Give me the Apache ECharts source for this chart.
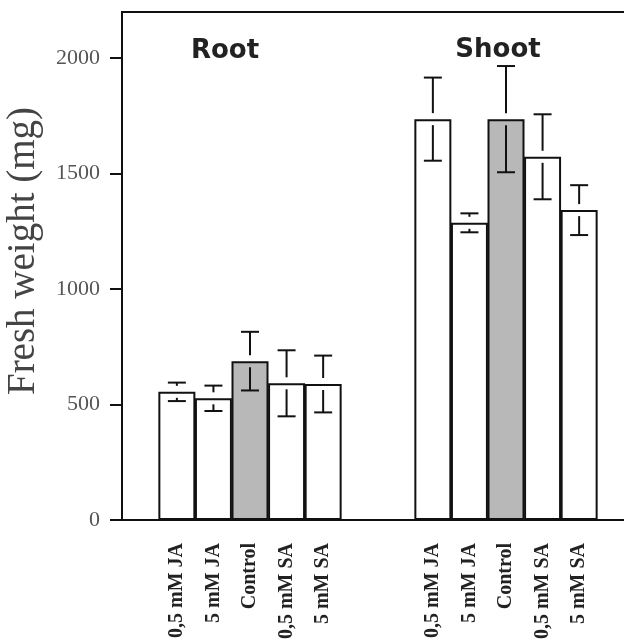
<!DOCTYPE html>
<html>
<head>
<meta charset="utf-8">
<script src="https://cdn.jsdelivr.net/npm/echarts@6/dist/echarts.min.js"></script>
<style>
  html, body { margin: 0; padding: 0; background: #fff; overflow: hidden; }
  #chart { width: 640px; height: 643px; }
</style>
</head>
<body>
<div id="chart"></div>
<script>
var treatments = ['0,5 mM JA', '5 mM JA', 'Control', '0,5 mM SA', '5 mM SA'];
var rootMean = [555, 527, 688, 592, 589];
var rootErr = [40, 55, 127, 143, 123];
var shootMean = [1736, 1287, 1736, 1573, 1342];
var shootErr = [180, 41, 230, 184, 108];
var yTicks = [0, 500, 1000, 1500, 2000];

// slots on the category axis: one empty slot, root group, two empty, shoot group, one empty
var categories = [''].concat(treatments, ['', ''], treatments, ['']);
var means = ['-'].concat(rootMean, ['-', '-'], shootMean, ['-']);
var errs = [0].concat(rootErr, [0, 0], shootErr, [0]);

var barData = [];
var errData = [];
for (var i = 0; i < categories.length; i++) {
  if (means[i] === '-') {
    barData.push('-');
    continue;
  }
  barData.push({
    value: means[i],
    itemStyle: { color: categories[i] === 'Control' ? '#b8b8b8' : '#ffffff' }
  });
  errData.push([i, means[i], errs[i]]);
}

var myChart = echarts.init(document.getElementById('chart'));

var option = {
  backgroundColor: '#ffffff',
  animation: false,
  grid: {
    left: 122, top: 12, width: 512, height: 508,
    outerBoundsMode: 'none',
    containLabel: false,
    show: true, borderColor: '#111', borderWidth: 2,
    backgroundColor: 'transparent'
  },
  xAxis: {
    type: 'category',
    data: categories,
    axisLine: { lineStyle: { color: '#111', width: 2 } },
    axisTick: {
      alignWithLabel: true,
      length: 12,
      interval: function (idx) { return categories[idx] === 'Control'; },
      lineStyle: { color: '#111', width: 2 }
    },
    axisLabel: {
      interval: 0,
      rotate: 90,
      margin: 23,
      color: '#222',
      fontFamily: 'Liberation Serif',
      fontWeight: 'bold',
      fontSize: 20
    },
    splitLine: { show: false }
  },
  yAxis: {
    type: 'value',
    min: 0,
    max: 2200,
    interval: 500,
    name: 'Fresh weight (mg)',
    nameLocation: 'middle',
    nameGap: 79,
    nameTextStyle: { fontFamily: 'Liberation Serif', fontSize: 39, color: '#444', padding: [0, 0, 0, 30] },
    axisLine: { show: true, lineStyle: { color: '#111', width: 2 } },
    axisTick: { show: true, length: 12, customValues: yTicks, lineStyle: { color: '#111', width: 2 } },
    axisLabel: {
      customValues: yTicks,
      formatter: function (v) { return String(v); },
      margin: 22,
      color: '#555',
      fontFamily: 'Liberation Serif',
      fontSize: 22
    },
    splitLine: { show: false }
  },
  graphic: [
    {
      type: 'text', x: 225, y: 51,
      style: { text: 'Root', font: 'bold 26px "DejaVu Sans"', fill: '#222', align: 'center', verticalAlign: 'middle' }
    },
    {
      type: 'text', x: 498, y: 50,
      style: { text: 'Shoot', font: 'bold 26px "DejaVu Sans"', fill: '#222', align: 'center', verticalAlign: 'middle' }
    }
  ],
  series: [
    {
      type: 'bar',
      data: barData,
      barWidth: 37,
      itemStyle: { borderColor: '#111', borderWidth: 2 }
    },
    {
      type: 'custom',
      z: 3,
      data: errData,
      encode: { x: 0, y: 1 },
      renderItem: function (params, api) {
        var x = api.value(0), m = api.value(1), e = api.value(2);
        var top = api.coord([x, m + e]);
        var mid = api.coord([x, m]);
        var bot = api.coord([x, m - e]);
        var gap = 6, half = 9;
        var st = { stroke: '#111', lineWidth: 2 };
        var parts = [
          { type: 'line', shape: { x1: top[0] - half, y1: top[1], x2: top[0] + half, y2: top[1] }, style: st },
          { type: 'line', shape: { x1: bot[0] - half, y1: bot[1], x2: bot[0] + half, y2: bot[1] }, style: st }
        ];
        if (mid[1] - gap > top[1]) {
          parts.push({ type: 'line', shape: { x1: top[0], y1: top[1], x2: top[0], y2: mid[1] - gap }, style: st });
          parts.push({ type: 'line', shape: { x1: bot[0], y1: mid[1] + gap, x2: bot[0], y2: bot[1] }, style: st });
        }
        return { type: 'group', children: parts };
      }
    }
  ]
};

myChart.setOption(option);
</script>
</body>
</html>
